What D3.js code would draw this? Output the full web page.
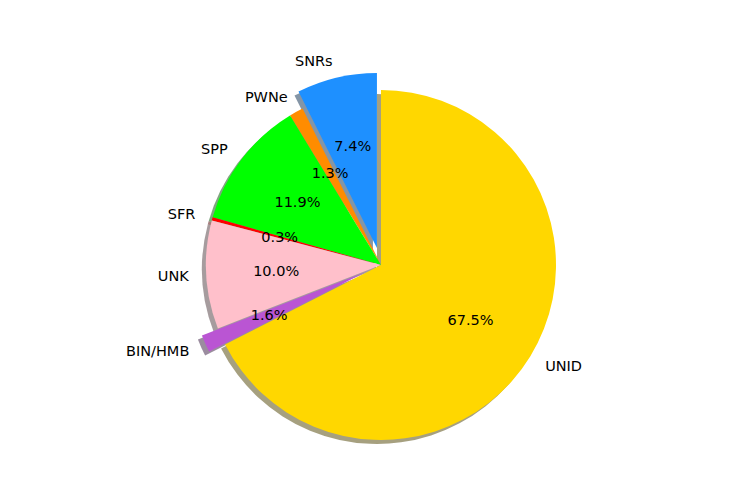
<!DOCTYPE html>
<html>
<head>
<meta charset="utf-8">
<script src="https://cdn.jsdelivr.net/npm/d3@7"></script>
<style>
  html, body { margin: 0; padding: 0; background: #fff; }
  svg { display: block; }
  text { font-family: "DejaVu Sans", sans-serif; fill: #000; }
</style>
</head>
<body>
<svg id="chart" width="741" height="486"></svg>
<script>
const categories = ["SNRs", "PWNe", "SPP", "SFR", "UNK", "BIN/HMB", "UNID"];
const values = [7.4, 1.3, 11.9, 0.3, 10.0, 1.6, 67.5];
const colors = ["#1e90ff", "#ff8c00", "#00ff00", "#ff0000", "#ffc0cb", "#ba55d3", "#ffd700"];
const explode = [0.1, 0, 0, 0, 0, 0.1, 0];

const W = 741, H = 486;
const cx = 381, cy = 265, R = 175;
const fontPx = 14.5;
const shadowDx = -4, shadowDy = 4;

const svg = d3.select("#chart");
const g = svg.append("g").attr("transform", `translate(${cx},${cy})`);

const data = categories.map((c, i) => ({ name: c, value: values[i], color: colors[i], explode: explode[i] }));

// matplotlib: start at 12 o'clock, counter-clockwise
const pie = d3.pie().value(d => d.value).sort(null).startAngle(0).endAngle(-2 * Math.PI);
const arcs = pie(data);

const arc = d3.arc().innerRadius(0).outerRadius(R);
const ringAt = k => d3.arc().innerRadius(k).outerRadius(k);

function offset(d) {
  return ringAt(d.data.explode * R).centroid(d);
}

// shadows (under all wedges)
const shadowG = g.append("g");
arcs.forEach(d => {
  const [ox, oy] = offset(d);
  const c = d3.rgb(d.data.color);
  const sc = d3.rgb(c.r * 0.3, c.g * 0.3, c.b * 0.3);
  shadowG.append("path")
    .attr("d", arc(d))
    .attr("transform", `translate(${ox + shadowDx},${oy + shadowDy})`)
    .attr("fill", sc.toString())
    .attr("fill-opacity", 0.5);
});

// wedges
const wedgeG = g.append("g");
arcs.forEach(d => {
  const [ox, oy] = offset(d);
  wedgeG.append("path")
    .attr("d", arc(d))
    .attr("transform", `translate(${ox},${oy})`)
    .attr("fill", d.data.color);
});

// labels
const textG = g.append("g");
arcs.forEach(d => {
  const [ox, oy] = offset(d);
  const [lx, ly] = ringAt(1.1 * R).centroid(d);
  const x = ox + lx, y = oy + ly;
  textG.append("text")
    .attr("x", x)
    .attr("y", y)
    .attr("dy", "0.35em")
    .attr("text-anchor", x > 0 ? "start" : "end")
    .style("font-size", fontPx + "px")
    .text(d.data.name);

  const [px, py] = ringAt(0.6 * R).centroid(d);
  textG.append("text")
    .attr("x", ox + px)
    .attr("y", oy + py)
    .attr("dy", "0.35em")
    .attr("text-anchor", "middle")
    .style("font-size", fontPx + "px")
    .text(d3.format(".1f")(d.data.value) + "%");
});
</script>
</body>
</html>
